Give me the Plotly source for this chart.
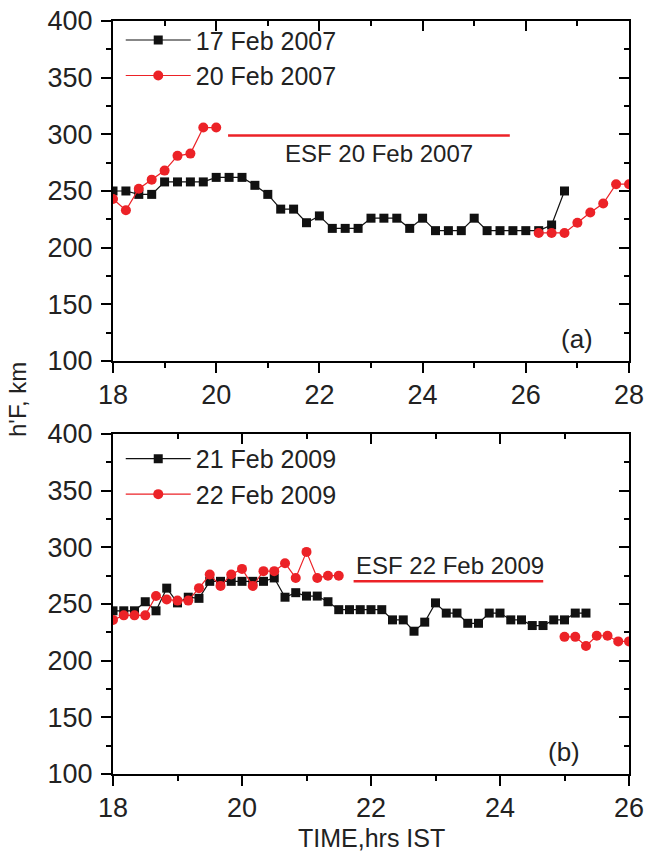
import plotly.graph_objects as go

# ---------------- Panel (a) data ----------------
t_a_17 = [18.0, 18.25, 18.5, 18.75, 19.0, 19.25, 19.5, 19.75, 20.0, 20.25, 20.5, 20.75,
          21.0, 21.25, 21.5, 21.75, 22.0, 22.25, 22.5, 22.75, 23.0, 23.25, 23.5, 23.75,
          24.0, 24.25, 24.5, 24.75, 25.0, 25.25, 25.5, 25.75, 26.0, 26.25, 26.5, 26.75]
h_a_17 = [250, 250, 247, 247, 258, 258, 258, 258, 262, 262, 262, 255,
          247, 234, 234, 222, 228, 217, 217, 217, 226, 226, 226, 217,
          226, 215, 215, 215, 226, 215, 215, 215, 215, 215, 220, 250]

t_a_20 = [18.0, 18.25, 18.5, 18.75, 19.0, 19.25, 19.5, 19.75, 20.0,
          26.25, 26.5, 26.75, 27.0, 27.25, 27.5, 27.75, 28.0]
h_a_20 = [243, 233, 252, 260, 268, 281, 283, 306, 306,
          213, 213, 213, 222, 231, 239, 256, 256]

esf_a_t = [20.23, 25.69]
esf_a_h = [299, 299]

# ---------------- Panel (b) data ----------------
t_b_21 = [18.0, 18.167, 18.333, 18.5, 18.667, 18.833, 19.0, 19.167, 19.333, 19.5,
          19.667, 19.833, 20.0, 20.167, 20.333, 20.5, 20.667, 20.833, 21.0, 21.167,
          21.333, 21.5, 21.667, 21.833, 22.0, 22.167, 22.333, 22.5, 22.667, 22.833,
          23.0, 23.167, 23.333, 23.5, 23.667, 23.833, 24.0, 24.167, 24.333, 24.5,
          24.667, 24.833, 25.0, 25.167, 25.333]
h_b_21 = [244, 244, 244, 252, 244, 264, 251, 256, 255, 270,
          270, 270, 270, 270, 270, 273, 256, 260, 257, 257,
          252, 245, 245, 245, 245, 245, 236, 236, 226, 234,
          251, 242, 242, 233, 233, 242, 242, 236, 236, 231,
          231, 236, 236, 242, 242]

t_b_22 = [18.0, 18.167, 18.333, 18.5, 18.667, 18.833, 19.0, 19.167, 19.333, 19.5,
          19.667, 19.833, 20.0, 20.167, 20.333, 20.5, 20.667, 20.833, 21.0, 21.167,
          21.333, 21.5,
          25.0, 25.167, 25.333, 25.5, 25.667, 25.833, 26.0]
h_b_22 = [236, 240, 240, 240, 257, 254, 253, 253, 264, 276,
          266, 276, 281, 266, 279, 279, 286, 273, 296, 273,
          275, 275,
          221, 221, 213, 222, 222, 217, 217]

esf_b_t = [21.73, 24.67]
esf_b_h = [270, 270]

x_a_ticks = [18, 20, 22, 24, 26, 28]
x_b_ticks = [18, 20, 22, 24, 26]
y_ticks = [100, 150, 200, 250, 300, 350, 400]

BLACK = "#111111"
RED = "#ec2227"
FONT = "Arial, Liberation Sans, sans-serif"

fig = go.Figure()

def series(t, h, name, color, symbol, size, xa, ya, legend):
    return go.Scatter(
        x=t, y=h, name=name, mode="lines+markers",
        line=dict(color=color, width=1.2),
        marker=dict(color=color, symbol=symbol, size=size, line=dict(width=0)),
        xaxis=xa, yaxis=ya, legend=legend, connectgaps=False,
    )

def with_gap(t, h, gap_after):
    tt = t[:gap_after] + [None] + t[gap_after:]
    hh = h[:gap_after] + [None] + h[gap_after:]
    return tt, hh

ta20, ha20 = with_gap(t_a_20, h_a_20, 9)
tb22, hb22 = with_gap(t_b_22, h_b_22, 22)

fig.add_trace(series(t_a_17, h_a_17, "17 Feb 2007", BLACK, "square", 9, "x", "y", "legend"))
fig.add_trace(series(ta20, ha20, "20 Feb 2007", RED, "circle", 10, "x", "y", "legend"))
fig.add_trace(go.Scatter(x=esf_a_t, y=esf_a_h, mode="lines", line=dict(color=RED, width=2.5),
                         showlegend=False, xaxis="x", yaxis="y"))

fig.add_trace(series(t_b_21, h_b_21, "21 Feb 2009", BLACK, "square", 9, "x2", "y2", "legend2"))
fig.add_trace(series(tb22, hb22, "22 Feb 2009", RED, "circle", 10, "x2", "y2", "legend2"))
fig.add_trace(go.Scatter(x=esf_b_t, y=esf_b_h, mode="lines", line=dict(color=RED, width=2.5),
                         showlegend=False, xaxis="x2", yaxis="y2"))

tickfont = dict(family=FONT, size=27, color="#222")

def base_axis(**kw):
    d = dict(showline=True, linecolor="black", linewidth=2, showgrid=False, zeroline=False,
             ticks="outside", ticklen=10, tickwidth=1.5, tickcolor="black",
             tickfont=tickfont, automargin=False)
    d.update(kw)
    return d

def overlay_axis(**kw):
    d = dict(showline=True, linecolor="black", linewidth=2, showgrid=False, zeroline=False,
             ticks="inside", ticklen=10, tickwidth=1.5, tickcolor="black",
             showticklabels=False, automargin=False)
    d.update(kw)
    return d

minor_out_x = dict(ticks="outside", dtick=1, ticklen=5, tickwidth=1.5, tickcolor="black")
minor_out_y = dict(ticks="outside", dtick=25, ticklen=5, tickwidth=1.5, tickcolor="black")
minor_in_x = dict(ticks="inside", dtick=1, ticklen=5, tickwidth=1.5, tickcolor="black")
minor_in_y = dict(ticks="inside", dtick=25, ticklen=5, tickwidth=1.5, tickcolor="black")

dom_a = [0.5485, 1.0]
dom_b = [0.0, 0.4515]

legend_font = dict(family=FONT, size=25, color="#222")

fig.update_layout(
    template="none",
    width=645, height=857,
    margin=dict(l=113, r=16, t=21, b=83, autoexpand=False),
    paper_bgcolor="white", plot_bgcolor="white",
    font=dict(family=FONT, color="#222"),
    xaxis=base_axis(domain=[0, 1], range=[18, 28], tickvals=x_a_ticks, anchor="y",
                    minor=minor_out_x, ticklabelstandoff=-1),
    yaxis=base_axis(domain=dom_a, range=[100, 400], tickvals=y_ticks, anchor="x",
                    minor=minor_out_y, ticklabelstandoff=3),
    xaxis2=base_axis(domain=[0, 1], range=[18, 26], tickvals=x_b_ticks, anchor="y2",
                     minor=minor_out_x, ticklabelstandoff=-1),
    yaxis2=base_axis(domain=dom_b, range=[100, 400], tickvals=y_ticks, anchor="x2",
                     minor=minor_out_y, ticklabelstandoff=3),
    xaxis3=overlay_axis(overlaying="x", side="top", anchor="y", range=[18, 28], tickvals=x_a_ticks,
                        minor=minor_in_x),
    yaxis3=overlay_axis(overlaying="y", side="right", anchor="x", range=[100, 400], tickvals=y_ticks,
                        minor=minor_in_y),
    xaxis4=overlay_axis(overlaying="x2", side="top", anchor="y2", range=[18, 26], tickvals=x_b_ticks,
                        minor=minor_in_x),
    yaxis4=overlay_axis(overlaying="y2", side="right", anchor="x2", range=[100, 400], tickvals=y_ticks,
                        minor=minor_in_y),
    legend=dict(x=0.015, y=1.005, xanchor="left", yanchor="top", bgcolor="rgba(0,0,0,0)",
                font=legend_font, itemwidth=65, tracegroupgap=0),
    legend2=dict(x=0.015, y=0.449, xanchor="left", yanchor="top", bgcolor="rgba(0,0,0,0)",
                 font=legend_font, itemwidth=65, tracegroupgap=0),
    showlegend=True,
)

fig.add_trace(go.Scatter(x=[None], y=[None], xaxis="x3", yaxis="y3", showlegend=False, hoverinfo="skip"))
fig.add_trace(go.Scatter(x=[None], y=[None], xaxis="x4", yaxis="y4", showlegend=False, hoverinfo="skip"))

def ann(**kw):
    d = dict(showarrow=False, xanchor="center", yanchor="middle")
    d.update(kw)
    fig.add_annotation(**d)

ann_font = dict(family=FONT, size=24, color="#222")
ann(x=23.15, y=283, xref="x", yref="y", text="ESF 20 Feb 2007", font=ann_font)
ann(x=23.22, y=284, xref="x2", yref="y2", text="ESF 22 Feb 2009", font=ann_font)
ann(x=0.899, y=0.065, xref="x domain", yref="y domain", text="(a)",
    font=dict(family=FONT, size=26, color="#222"))
ann(x=0.874, y=0.065, xref="x2 domain", yref="y2 domain", text="(b)",
    font=dict(family=FONT, size=26, color="#222"))
ann(x=-0.184, y=0.4967, xref="paper", yref="paper", text="h'F, km", textangle=-90,
    font=dict(family=FONT, size=24, color="#222"))
ann(x=0.5, y=-0.085, xref="paper", yref="paper", text="TIME,hrs IST",
    font=dict(family=FONT, size=25, color="#222"))

fig.write_html("out.html", config={"displayModeBar": False},
               post_script="document.body.style.margin='0px';")
